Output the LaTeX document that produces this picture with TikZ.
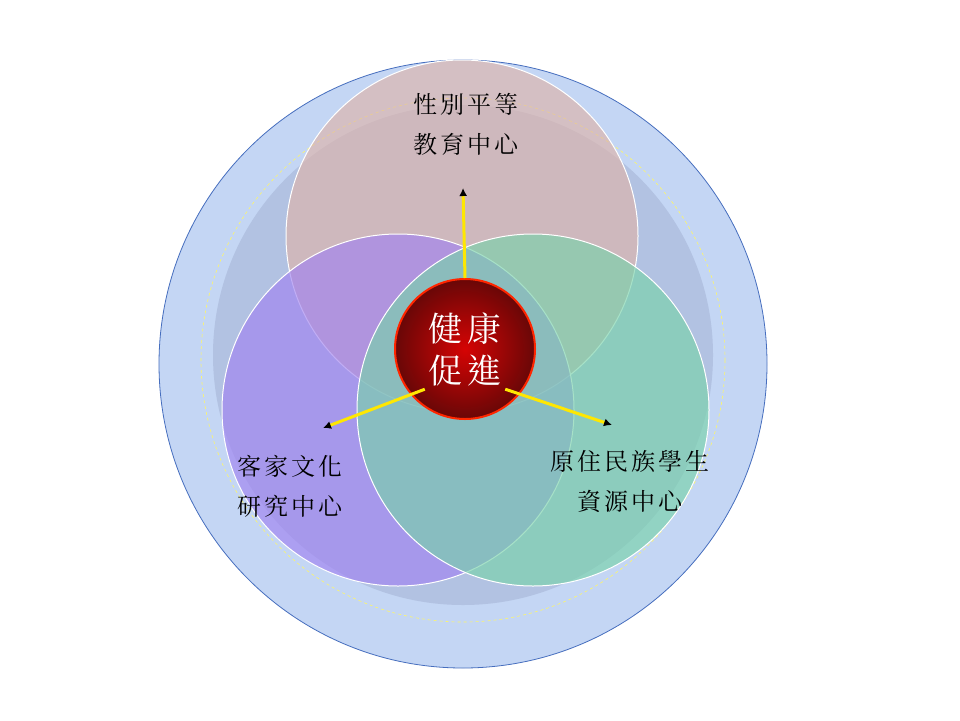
\documentclass[tikz,border=0pt]{standalone}
\usepackage{fontspec}
\newfontfamily\cjk[LetterSpace=12]{Noto Serif CJK TC}
\newfontfamily\cjkb{Noto Sans CJK TC}
\definecolor{outerb}{RGB}{196,214,244}
\definecolor{outerl}{RGB}{70,110,190}
\definecolor{innerb}{RGB}{178,194,226}
\definecolor{topc}{RGB}{222,180,170}
\definecolor{leftc}{RGB}{160,130,240}
\definecolor{rightc}{RGB}{120,210,170}
\definecolor{ballc}{RGB}{150,10,10}
\tikzset{venn/.style={draw=white,line width=1pt,fill opacity=0.65},
 lbl/.style={font=\cjk\fontsize{24}{40}\selectfont,align=center,text=black},
 spoke/.style={draw=yellow!90!orange,line width=3pt,-{Latex[length=8pt,width=8pt,black]}}}
\usetikzlibrary{arrows.meta}
\begin{document}
\begin{tikzpicture}[x=1pt,y=-1pt]
\useasboundingbox (0,0) rectangle (960,720);
\fill[white] (0,0) rectangle (960,720);
\node[circle,minimum size=608pt,fill=outerb,draw=outerl,line width=0.8pt] (outer) at (463,364) {};
\node[circle,minimum size=500pt,fill=innerb,inner sep=0] (inner) at (463,355) {};
\draw[yellow!60!white,dashed,line width=0.6pt] (463,360) circle (262);
\node[circle,minimum size=352pt,fill=topc,venn] (top) at (462,236) {};
\node[circle,minimum size=352pt,fill=leftc,venn] (left) at (398,410) {};
\node[circle,minimum size=352pt,fill=rightc,venn] (right) at (533,410) {};
\node[circle,minimum size=140pt,inner sep=0,draw=red!70!orange,line width=2pt,
 inner color=red!60!ballc,outer color=ballc!70!black] (ball) at (465,349) {};
\node[lbl,text=white,font=\cjk\fontsize{34}{42}\selectfont] at (ball) {健康\\促進};
\coordinate (ta) at (463,188);
\coordinate (la) at (323,428);
\coordinate (ra) at (612,425);
\draw[spoke] (ball.north) -- (ta);
\draw[spoke] (ball.south west) ++(10,-10) -- (la);
\draw[spoke] (ball.south east) ++(-10,-10) -- (ra);
\node[lbl] (tt) at (466,124) {性別平等\\教育中心};
\node[lbl] (lt) at (290,486) {客家文化\\研究中心};
\node[lbl] (rt) at (630,482) {原住民族學生\\資源中心};
\end{tikzpicture}
\end{document}
